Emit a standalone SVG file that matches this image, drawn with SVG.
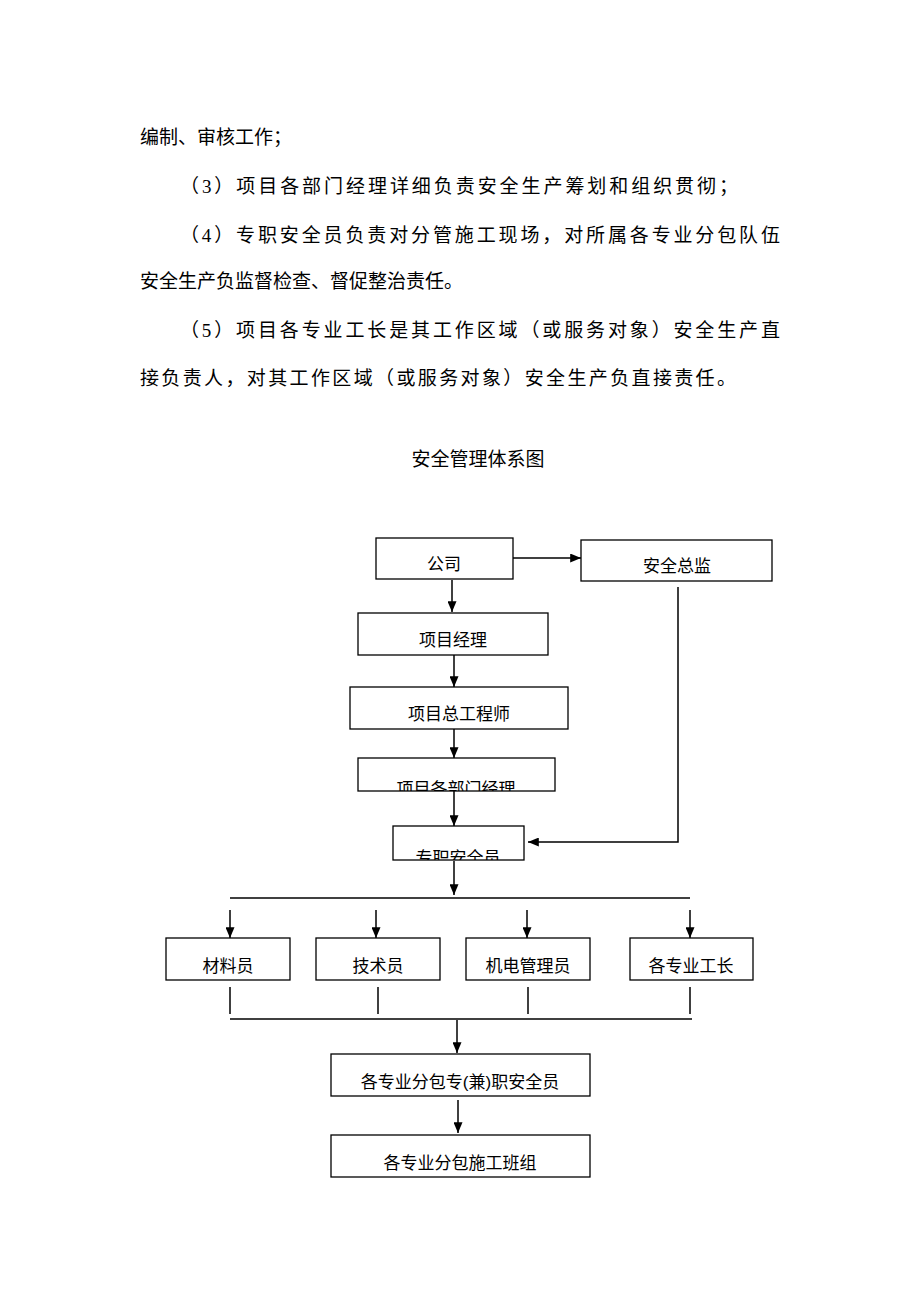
<svg xmlns="http://www.w3.org/2000/svg" width="920" height="1302" viewBox="0 0 920 1302">
<style>
.p{font-family:"Liberation Serif","Noto Sans CJK SC",serif;font-size:19px;fill:#000}
.b{fill:#fff;stroke:#000;stroke-width:1.3}
.t{font-family:"Liberation Sans","Noto Sans CJK SC",sans-serif;font-size:17px;fill:#000;text-anchor:middle}
.c{stroke:#000;stroke-width:1.5;fill:none}
</style>
<defs>
<marker id="a" viewBox="0 0 12 10" refX="12" refY="5" markerWidth="12" markerHeight="9" orient="auto" markerUnits="userSpaceOnUse"><path d="M0,0L12,5L0,10z" fill="#000"/></marker>
<clipPath id="k1"><rect x="358" y="758" width="197" height="33"/></clipPath>
<clipPath id="k2"><rect x="393" y="826" width="131" height="34"/></clipPath>
</defs>
<rect width="920" height="1302" fill="#fff"/>
<g id="text">
<text class="p" x="140" y="144">编制、审核工作；</text>
<text class="p" x="180" y="193" textLength="558">（3）项目各部门经理详细负责安全生产筹划和组织贯彻；</text>
<text class="p" x="180" y="242" textLength="600">（4）专职安全员负责对分管施工现场，对所属各专业分包队伍</text>
<text class="p" x="140" y="288">安全生产负监督检查、督促整治责任。</text>
<text class="p" x="180" y="337" textLength="600">（5）项目各专业工长是其工作区域（或服务对象）安全生产直</text>
<text class="p" x="140" y="385" textLength="596">接负责人，对其工作区域（或服务对象）安全生产负直接责任。</text>
<text class="p" x="478" y="466" text-anchor="middle">安全管理体系图</text>
</g>
<g id="connectors">
<line class="c" x1="513" y1="558" x2="581" y2="558" marker-end="url(#a)"/>
<line class="c" x1="452" y1="580" x2="452" y2="612" marker-end="url(#a)"/>
<line class="c" x1="454" y1="655" x2="454" y2="687" marker-end="url(#a)"/>
<line class="c" x1="454" y1="729" x2="454" y2="758" marker-end="url(#a)"/>
<line class="c" x1="454" y1="791" x2="454" y2="826" marker-end="url(#a)"/>
<polyline class="c" points="678,587 678,842 528,842" marker-end="url(#a)"/>
<line class="c" x1="454" y1="861" x2="454" y2="895" marker-end="url(#a)"/>
<line class="c" x1="230" y1="898" x2="690" y2="898"/>
<line class="c" x1="230" y1="910" x2="230" y2="938" marker-end="url(#a)"/>
<line class="c" x1="376" y1="910" x2="376" y2="938" marker-end="url(#a)"/>
<line class="c" x1="527" y1="910" x2="527" y2="938" marker-end="url(#a)"/>
<line class="c" x1="690" y1="910" x2="690" y2="938" marker-end="url(#a)"/>
<line class="c" x1="230" y1="987" x2="230" y2="1014"/>
<line class="c" x1="378" y1="987" x2="378" y2="1014"/>
<line class="c" x1="528" y1="987" x2="528" y2="1014"/>
<line class="c" x1="690" y1="987" x2="690" y2="1014"/>
<line class="c" x1="230" y1="1019" x2="692" y2="1019"/>
<line class="c" x1="457" y1="1020" x2="457" y2="1053" marker-end="url(#a)"/>
<line class="c" x1="458" y1="1100" x2="458" y2="1133" marker-end="url(#a)"/>
</g>
<g id="n1"><rect class="b" x="376" y="538" width="137" height="41"/><text class="t" x="444" y="570">公司</text></g>
<g id="n2"><rect class="b" x="581" y="540" width="191" height="41"/><text class="t" x="677" y="572">安全总监</text></g>
<g id="n3"><rect class="b" x="358" y="613" width="190" height="42"/><text class="t" x="453" y="646">项目经理</text></g>
<g id="n4"><rect class="b" x="350" y="687" width="218" height="42"/><text class="t" x="459" y="720">项目总工程师</text></g>
<g id="n5"><rect class="b" x="358" y="758" width="197" height="33"/><text class="t" x="456" y="795" clip-path="url(#k1)">项目各部门经理</text></g>
<g id="n6"><rect class="b" x="393" y="826" width="131" height="34"/><text class="t" x="458" y="864" clip-path="url(#k2)">专职安全员</text></g>
<g id="n7"><rect class="b" x="166" y="938" width="124" height="42"/><text class="t" x="228" y="972">材料员</text></g>
<g id="n8"><rect class="b" x="316" y="938" width="124" height="42"/><text class="t" x="378" y="972">技术员</text></g>
<g id="n9"><rect class="b" x="466" y="938" width="124" height="42"/><text class="t" x="528" y="972">机电管理员</text></g>
<g id="n10"><rect class="b" x="630" y="938" width="123" height="42"/><text class="t" x="691" y="972">各专业工长</text></g>
<g id="n11"><rect class="b" x="331" y="1054" width="259" height="42"/><text class="t" x="460" y="1088">各专业分包专(兼)职安全员</text></g>
<g id="n12"><rect class="b" x="331" y="1135" width="259" height="42"/><text class="t" x="460" y="1169">各专业分包施工班组</text></g>
</svg>
